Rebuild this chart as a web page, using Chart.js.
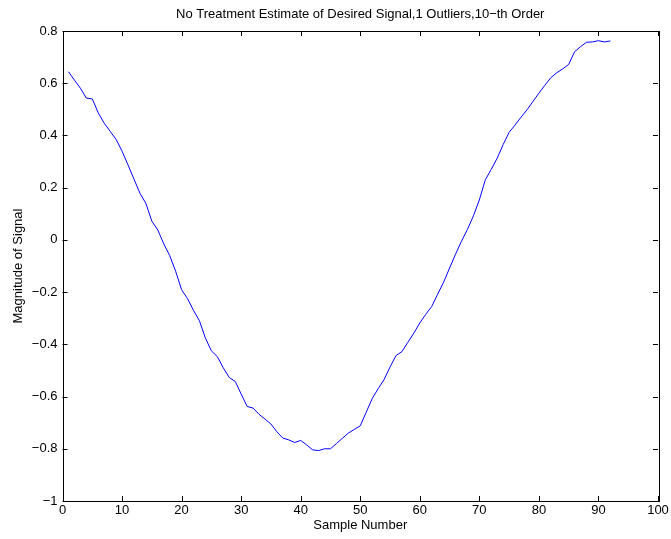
<!DOCTYPE html>
<html>
<head>
<meta charset="utf-8">
<script src="https://cdn.jsdelivr.net/npm/chart.js@4/dist/chart.umd.min.js"></script>
<style>
  html, body { margin: 0; padding: 0; background: #fff; }
  #wrap { width: 671px; height: 539px; }
</style>
</head>
<body>
<div id="wrap"><canvas id="signal"></canvas></div>
<script>
const titleText = "No Treatment Estimate of Desired Signal,1 Outliers,10\u2212th Order";
const xLabel = "Sample Number";
const yLabel = "Magnitude of Signal";

// estimated signal, one value per sample (samples 1..92)
const estimate = [
  0.644, 0.612, 0.581, 0.543, 0.540, 0.487, 0.447, 0.416, 0.385, 0.340,
  0.287, 0.233, 0.179, 0.140, 0.072, 0.038, -0.015, -0.060, -0.120, -0.191,
  -0.225, -0.270, -0.310, -0.376, -0.425, -0.447, -0.490, -0.527, -0.542, -0.590,
  -0.638, -0.644, -0.668, -0.686, -0.705, -0.735, -0.759, -0.766, -0.776, -0.768,
  -0.785, -0.804, -0.807, -0.800, -0.800, -0.780, -0.760, -0.740, -0.726, -0.712,
  -0.660, -0.608, -0.570, -0.535, -0.487, -0.443, -0.428, -0.392, -0.357, -0.318,
  -0.285, -0.255, -0.208, -0.162, -0.108, -0.055, -0.005, 0.040, 0.092, 0.153,
  0.230, 0.270, 0.313, 0.365, 0.412, 0.440, 0.470, 0.498, 0.530, 0.562,
  0.592, 0.621, 0.640, 0.655, 0.672, 0.721, 0.740, 0.757, 0.758, 0.763,
  0.758, 0.762
];

const xTicks = [0, 10, 20, 30, 40, 50, 60, 70, 80, 90, 100];
const yTicks = [-1, -0.8, -0.6, -0.4, -0.2, 0, 0.2, 0.4, 0.6, 0.8];

const font = { family: "'Liberation Sans', Arial, Helvetica, sans-serif", size: 13 };
const fmt = v => parseFloat(v.toFixed(1)).toString().replace("-", "\u2212");

// matlab style box with inward ticks on all sides
const boxTicks = {
  id: "boxTicks",
  afterDraw(chart) {
    const { ctx, chartArea: a, scales } = chart;
    const len = 5;
    ctx.save();
    ctx.strokeStyle = "#000";
    ctx.lineWidth = 1;
    ctx.strokeRect(Math.round(a.left) + 0.5, Math.round(a.top) + 0.5,
      Math.round(a.right - a.left), Math.round(a.bottom - a.top));
    ctx.beginPath();
    for (const t of xTicks) {
      const px = Math.round(scales.x.getPixelForValue(t)) + 0.5;
      ctx.moveTo(px, a.bottom); ctx.lineTo(px, a.bottom - len);
      ctx.moveTo(px, a.top); ctx.lineTo(px, a.top + len);
    }
    for (const t of yTicks) {
      const py = Math.round(scales.y.getPixelForValue(t)) + 0.5;
      ctx.moveTo(a.left, py); ctx.lineTo(a.left + len, py);
      ctx.moveTo(a.right, py); ctx.lineTo(a.right - len, py);
    }
    ctx.stroke();
    ctx.restore();
  }
};

new Chart(document.getElementById("signal"), {
  type: "scatter",
  data: {
    datasets: [{
      data: estimate.map((v, i) => ({ x: i + 1, y: v })),
      showLine: true,
      borderColor: "#0000ff",
      borderWidth: 1,
      pointRadius: 0,
      tension: 0
    }]
  },
  options: {
    responsive: true,
    maintainAspectRatio: false,
    animation: false,
    layout: { padding: { left: 0, right: 13, top: 0, bottom: 0 } },
    plugins: {
      legend: { display: false },
      tooltip: { enabled: false },
      title: {
        display: true,
        fullSize: false,
        text: titleText,
        color: "#000",
        font: { ...font, weight: "normal" },
        padding: { top: 6.2, bottom: 9.2 }
      }
    },
    scales: {
      x: {
        type: "linear",
        min: 0, max: 100,
        afterFit: s => { s.height = 38; },
        afterBuildTicks: s => { s.ticks = xTicks.map(v => ({ value: v })); },
        grid: { display: false, drawTicks: false },
        border: { display: false },
        ticks: { color: "#000", font, padding: 1.5, maxRotation: 0, callback: fmt },
        title: { display: true, text: xLabel, color: "#000", font, padding: { top: 0, bottom: 6.2 } }
      },
      y: {
        min: -1, max: 0.8,
        afterFit: s => { s.width = 62.5; },
        afterBuildTicks: s => { s.ticks = yTicks.map(v => ({ value: v })); },
        grid: { display: false, drawTicks: false },
        border: { display: false },
        ticks: { color: "#000", font, padding: 5, callback: fmt },
        title: { display: true, text: yLabel, color: "#000", font, padding: { top: 10.5, bottom: 0 } }
      }
    }
  },
  plugins: [boxTicks]
});
</script>
</body>
</html>
